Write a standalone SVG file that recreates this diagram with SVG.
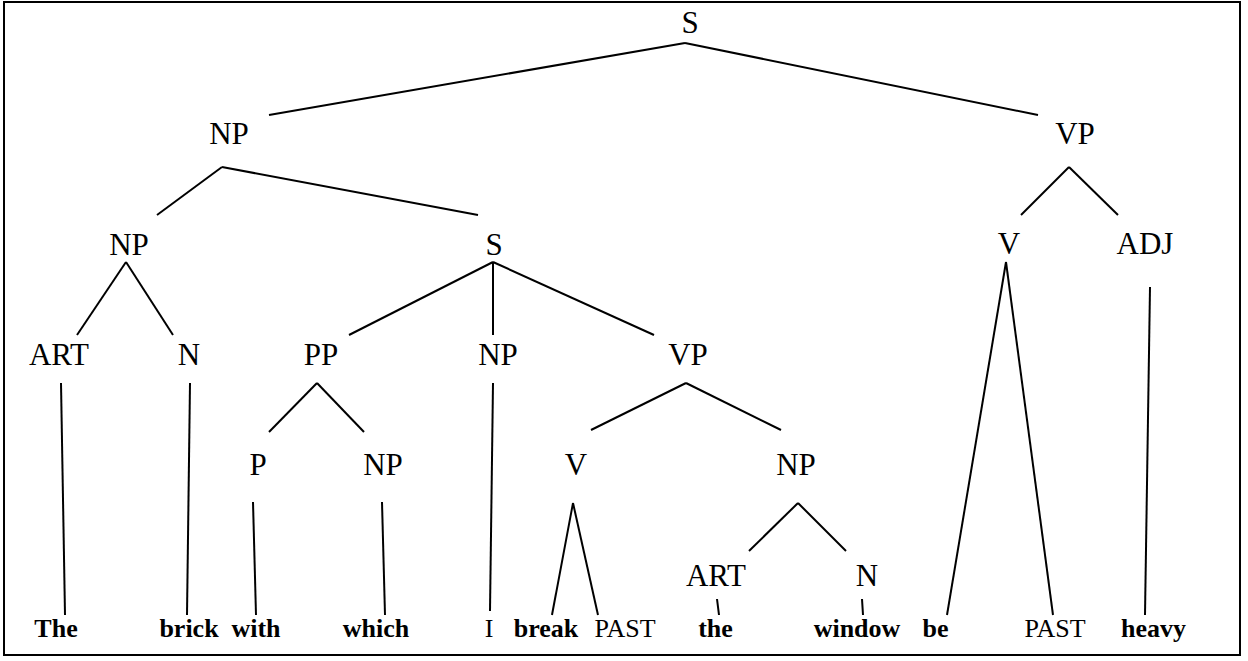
<svg xmlns="http://www.w3.org/2000/svg" width="1248" height="661" viewBox="0 0 1248 661">
<style>
text{fill:#000;text-anchor:middle}
.n{font-size:31px}
.w{font-size:26px}
.b{font-weight:bold}
.e{stroke:#000;stroke-width:2;fill:none;stroke-linecap:butt}
</style>
<rect x="0" y="0" width="1248" height="661" fill="#fff"/>
<rect x="4" y="2" width="1236" height="653" fill="none" stroke="#000" stroke-width="2"/>
<g id="edges" class="e">
<line x1="685" y1="43" x2="269" y2="115"/>
<line x1="685" y1="43" x2="1038" y2="115"/>
<line x1="222" y1="167" x2="157" y2="215"/>
<line x1="222" y1="167" x2="478" y2="215"/>
<line x1="1069" y1="167" x2="1021" y2="215"/>
<line x1="1069" y1="167" x2="1118" y2="215"/>
<line x1="126" y1="262" x2="77" y2="335"/>
<line x1="126" y1="262" x2="173" y2="335"/>
<line x1="493" y1="262" x2="349" y2="335"/>
<line x1="493" y1="262" x2="493" y2="335"/>
<line x1="493" y1="262" x2="654" y2="335"/>
<line x1="1006" y1="262" x2="947" y2="615"/>
<line x1="1006" y1="262" x2="1053" y2="615"/>
<line x1="1150" y1="287" x2="1145" y2="615"/>
<line x1="61" y1="383" x2="65" y2="615"/>
<line x1="190" y1="383" x2="187" y2="615"/>
<line x1="317" y1="383" x2="269" y2="432"/>
<line x1="317" y1="383" x2="364" y2="432"/>
<line x1="493" y1="383" x2="490" y2="611"/>
<line x1="686" y1="383" x2="591" y2="430"/>
<line x1="686" y1="383" x2="781" y2="430"/>
<line x1="253" y1="502" x2="256" y2="615"/>
<line x1="382" y1="502" x2="385" y2="615"/>
<line x1="573" y1="503" x2="552" y2="615"/>
<line x1="573" y1="503" x2="598" y2="615"/>
<line x1="798" y1="503" x2="749" y2="551"/>
<line x1="798" y1="503" x2="846" y2="551"/>
<line x1="717" y1="599" x2="719" y2="615"/>
<line x1="862" y1="599" x2="863" y2="615"/>
</g>
<g font-family="Liberation Serif, Times New Roman, serif">
<g id="S-root"><text class="n" x="690" y="33">S</text></g>
<g id="NP-subj"><text class="n" x="229" y="144">NP</text></g>
<g id="VP-main"><text class="n" x="1075" y="144">VP</text></g>
<g id="NP-head"><text class="n" x="129" y="255">NP</text></g>
<g id="S-rel"><text class="n" x="494" y="255">S</text></g>
<g id="V-be"><text class="n" x="1009" y="254">V</text></g>
<g id="ADJ"><text class="n" x="1145" y="254">ADJ</text></g>
<g id="ART-1"><text class="n" x="59" y="365">ART</text></g>
<g id="N-1"><text class="n" x="189" y="365">N</text></g>
<g id="PP"><text class="n" x="321" y="365">PP</text></g>
<g id="NP-I"><text class="n" x="498" y="365">NP</text></g>
<g id="VP-rel"><text class="n" x="688" y="365">VP</text></g>
<g id="P"><text class="n" x="258" y="475">P</text></g>
<g id="NP-which"><text class="n" x="383" y="475">NP</text></g>
<g id="V-break"><text class="n" x="576" y="475">V</text></g>
<g id="NP-obj"><text class="n" x="796" y="475">NP</text></g>
<g id="ART-2"><text class="n" x="716" y="586">ART</text></g>
<g id="N-2"><text class="n" x="867" y="586">N</text></g>
<g id="w-The"><text class="w b" x="56" y="637">The</text></g>
<g id="w-brick"><text class="w b" x="189" y="637">brick</text></g>
<g id="w-with"><text class="w b" x="256" y="637">with</text></g>
<g id="w-which"><text class="w b" x="376" y="637">which</text></g>
<g id="w-I"><text class="w" x="489" y="637">I</text></g>
<g id="w-break"><text class="w b" x="546" y="637">break</text></g>
<g id="w-PAST1"><text class="w" x="625" y="637">PAST</text></g>
<g id="w-the"><text class="w b" x="715.5" y="637">the</text></g>
<g id="w-window"><text class="w b" x="857" y="637">window</text></g>
<g id="w-be"><text class="w b" x="935.5" y="637">be</text></g>
<g id="w-PAST2"><text class="w" x="1055" y="637">PAST</text></g>
<g id="w-heavy"><text class="w b" x="1153.5" y="637">heavy</text></g>
</g>
</svg>
